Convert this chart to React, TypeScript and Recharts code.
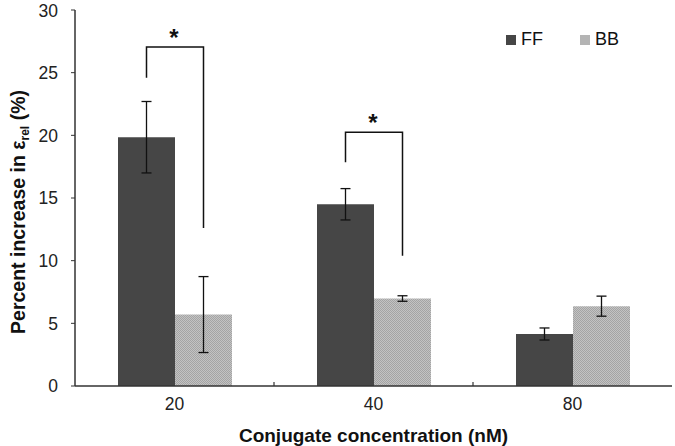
import { BarChart, Bar, XAxis, YAxis, ErrorBar, Legend, LabelList } from 'recharts';

const categories = ['20', '40', '80'];
const ffValues = [19.85, 14.5, 4.15];
const ffErrors = [2.85, 1.25, 0.48];
const bbValues = [5.7, 6.98, 6.37];
const bbErrors = [3.03, 0.22, 0.8];
// significance brackets (value units): top bar, left leg end, right leg end
const bracketTop = [27.05, 20.25, null];
const bracketLeft = [24.6, 17.85, null];
const bracketRight = [12.6, 10.4, null];
const yTicks = [0, 5, 10, 15, 20, 25, 30];

const FONT = '"Liberation Sans", Arial, sans-serif';
const W = 675;
const H = 446;
const M = { top: 10, right: 3, left: 0, bottom: 0 };
const Y_W = 75;
const X_H = 60;
const BAND = (W - M.left - M.right - Y_W) / categories.length;

const data = categories.map((c, i) => ({
  cat: c,
  ff: ffValues[i],
  ffErr: ffErrors[i],
  bb: bbValues[i],
  bbErr: bbErrors[i],
}));

const XTick = (props: any) => {
  const { x, y, payload, index } = props;
  return (
    <g>
      <text x={x} y={y + 24} textAnchor="middle" fontSize={17.5} fill="#222" fontFamily={FONT}>
        {payload.value}
      </text>
      {index < categories.length - 1 && (
        <line x1={x + BAND / 2} x2={x + BAND / 2} y1={y} y2={y - 4} stroke="#333" strokeWidth={1.2} />
      )}
    </g>
  );
};

const Bracket = (props: any) => {
  const { x, y, width, height, value, index } = props;
  const top = bracketTop[index];
  if (top == null || !value) return null;
  const per = height / value;
  const base = y + height;
  const py = (v: number) => base - v * per;
  const lx = x + width / 2;
  const rx = x + width * 1.5;
  return (
    <g>
      <path
        d={`M${lx},${py(bracketLeft[index] as number)} L${lx},${py(top)} L${rx},${py(top)} L${rx},${py(bracketRight[index] as number)}`}
        fill="none"
        stroke="#111"
        strokeWidth={1.5}
      />
      <text x={(lx + rx) / 2 - 1} y={py(top) - 1} textAnchor="middle" fontSize={24} fontWeight="bold" fill="#111" fontFamily={FONT}>
        *
      </text>
    </g>
  );
};

const YLabel = () => (
  <text
    transform="translate(25,212) rotate(-90)"
    textAnchor="middle"
    fontSize={19.5}
    fontWeight="bold"
    fill="#111"
    fontFamily={FONT}
  >
    Percent increase in ε
    <tspan fontSize={12} dy={4}>rel</tspan>
    <tspan dy={-4}> (%)</tspan>
  </text>
);

const legendItems = [
  { name: 'FF', color: '#464646' },
  { name: 'BB', color: '#b4b4b4' },
];

const LegendContent = () => (
  <div style={{ display: 'flex', fontFamily: FONT, fontSize: 18, color: '#111' }}>
    {legendItems.map((it) => (
      <div key={it.name} style={{ display: 'flex', alignItems: 'center', width: 74 }}>
        <span style={{ display: 'inline-block', width: 10, height: 10, background: it.color, marginRight: 5 }} />
        <span>{it.name}</span>
      </div>
    ))}
  </div>
);

export default function App() {
  return (
    <div style={{ position: 'absolute', left: 0, top: 0, width: W, height: H, background: '#fff' }}>
      <BarChart width={W} height={H} data={data} margin={M} barGap={0} barSize={57}>
        <defs>
          <pattern id="bbPattern" width={2} height={2} patternUnits="userSpaceOnUse">
            <rect width={2} height={2} fill="#c3c3c3" />
            <rect width={1} height={1} fill="#a4a4a4" />
            <rect x={1} y={1} width={1} height={1} fill="#a4a4a4" />
          </pattern>
        </defs>
        <XAxis
          dataKey="cat"
          height={X_H}
          tickSize={0}
          tickMargin={0}
          tickLine={false}
          axisLine={{ stroke: '#333', strokeWidth: 1.5 }}
          tick={<XTick />}
          interval={0}
          label={{
            value: 'Conjugate concentration (nM)',
            position: 'insideBottom',
            offset: 4,
            fontSize: 19,
            fontWeight: 'bold',
            fill: '#111',
            fontFamily: FONT,
          }}
        />
        <XAxis xAxisId="top" dataKey="cat" orientation="top" height={0} tick={false} tickLine={false} axisLine={{ stroke: '#8c8c8c', strokeWidth: 1.2 }} />
        <YAxis
          width={Y_W}
          domain={[0, 30]}
          ticks={yTicks}
          tickSize={4}
          tickMargin={13}
          tick={{ fontSize: 17.5, fill: '#222', fontFamily: FONT }}
          axisLine={{ stroke: '#333', strokeWidth: 1.5 }}
          tickLine={{ stroke: '#333' }}
          label={<YLabel />}
        />
        <YAxis yAxisId="right" orientation="right" width={0} domain={[0, 30]} tick={false} tickLine={false} axisLine={{ stroke: '#555', strokeWidth: 1.5 }} />
        <Legend
          layout="vertical"
          align="center"
          verticalAlign="middle"
          content={<LegendContent />}
          wrapperStyle={{ position: 'absolute', left: 506, top: 29, width: 160 }}
        />
        <Bar dataKey="ff" name="FF" fill="#464646" isAnimationActive={false}>
          <ErrorBar dataKey="ffErr" width={5} stroke="#111" strokeWidth={1.3} direction="y" />
          <LabelList dataKey="ff" content={<Bracket />} />
        </Bar>
        <Bar dataKey="bb" name="BB" fill="url(#bbPattern)" isAnimationActive={false}>
          <ErrorBar dataKey="bbErr" width={5} stroke="#111" strokeWidth={1.3} direction="y" />
        </Bar>
      </BarChart>
    </div>
  );
}
